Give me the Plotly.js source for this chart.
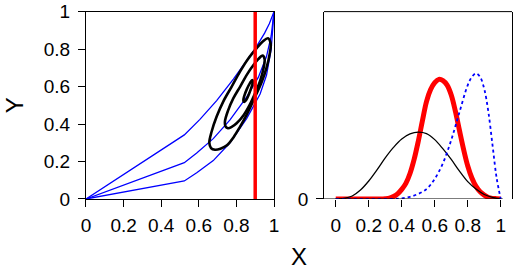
<!DOCTYPE html>
<html>
<head>
<meta charset="utf-8">
<script src="https://cdn.plot.ly/plotly-3.0.1.min.js"></script>
<style>html,body{margin:0;padding:0;background:#fff}#chart{width:517px;height:270px}</style>
</head>
<body>
<div id="chart"></div>
<script>
// ---- left panel data ----
const upperX = [0, 0.523, 0.606, 0.695, 0.784, 0.85, 0.9, 0.95, 0.975, 1];
const upperY = [0, 0.342, 0.425, 0.525, 0.64, 0.73, 0.803, 0.885, 0.935, 1];
const midX   = [0, 0.523, 0.589, 0.677, 0.766, 0.855, 0.917, 0.96, 0.985, 1];
const midY   = [0, 0.194, 0.245, 0.322, 0.422, 0.545, 0.65, 0.76, 0.87, 1];
const lowX   = [0, 0.523, 0.589, 0.677, 0.766, 0.855, 0.926, 0.96, 0.985, 1];
const lowY   = [0, 0.096, 0.14, 0.205, 0.3, 0.43, 0.56, 0.66, 0.8, 1];

const outerX = [0.968, 0.940, 0.908, 0.860, 0.819, 0.775, 0.730, 0.695, 0.668, 0.656, 0.665, 0.686, 0.715, 0.748, 0.785, 0.819, 0.855, 0.900, 0.935, 0.960, 0.978, 0.982, 0.968];
const outerY = [0.858, 0.840, 0.805, 0.745, 0.680, 0.600, 0.520, 0.440, 0.359, 0.300, 0.272, 0.263, 0.268, 0.285, 0.330, 0.385, 0.450, 0.546, 0.625, 0.700, 0.780, 0.830, 0.858];
const middleX = [0.940, 0.915, 0.880, 0.855, 0.820, 0.784, 0.755, 0.739, 0.742, 0.755, 0.775, 0.801, 0.840, 0.872, 0.900, 0.926, 0.945, 0.950, 0.940];
const middleY = [0.765, 0.745, 0.700, 0.662, 0.600, 0.538, 0.470, 0.413, 0.388, 0.378, 0.385, 0.404, 0.450, 0.505, 0.565, 0.630, 0.700, 0.745, 0.765];
const innerX = [0.884, 0.872, 0.855, 0.842, 0.837, 0.842, 0.852, 0.865, 0.878, 0.888, 0.884];
const innerY = [0.635, 0.618, 0.585, 0.550, 0.525, 0.518, 0.528, 0.555, 0.590, 0.625, 0.635];

const vlineX = 0.9;

// ---- right panel data (densities) ----
const blackX = [0,0.05,0.1,0.15,0.2,0.25,0.3,0.35,0.4,0.45,0.5,0.55,0.6,0.65,0.7,0.75,0.8,0.85,0.9,0.95,1];
const blackY = [0,0.02,0.10,0.30,0.60,0.97,1.37,1.72,2.00,2.17,2.23,2.18,1.98,1.67,1.32,0.93,0.58,0.33,0.15,0.05,0];
const redX = [0,0.25,0.275,0.3,0.325,0.35,0.375,0.4,0.425,0.45,0.475,0.5,0.525,0.55,0.575,0.6,0.625,0.65,0.675,0.7,0.725,0.75,0.775,0.8,0.825,0.85,0.875,0.9,0.925,0.95,0.975,1];
const redY = [0,0,0,0.01,0.03,0.08,0.17,0.32,0.52,0.85,1.32,1.92,2.60,3.25,3.65,3.88,3.99,3.95,3.80,3.47,2.93,2.28,1.65,1.10,0.70,0.42,0.24,0.13,0.05,0.02,0.01,0];
const blueX = [0,0.35,0.4,0.45,0.5,0.55,0.6,0.65,0.7,0.75,0.8,0.825,0.85,0.875,0.9,0.925,0.95,0.975,1];
const blueY = [0,0,0.02,0.07,0.17,0.33,0.67,1.2,1.97,2.9,3.8,4.07,4.19,4.07,3.67,2.9,1.8,0.7,0];

const ticks = [0,0.2,0.4,0.6,0.8,1];
const tickText = ['0','0.2','0.4','0.6','0.8','1'];

const FONT = 'Liberation Sans, Arial, Helvetica, sans-serif';
const BLUE = '#0000FF', RED = '#FF0000';

const traces = [
  {x: upperX, y: upperY, mode:'lines', line:{color:BLUE, width:1.3}, xaxis:'x', yaxis:'y'},
  {x: midX, y: midY, mode:'lines', line:{color:BLUE, width:1.3}, xaxis:'x', yaxis:'y'},
  {x: lowX, y: lowY, mode:'lines', line:{color:BLUE, width:1.3}, xaxis:'x', yaxis:'y'},
  {x: outerX, y: outerY, mode:'lines', line:{color:'#000', width:2.6, shape:'spline'}, xaxis:'x', yaxis:'y'},
  {x: middleX, y: middleY, mode:'lines', line:{color:'#000', width:2.6, shape:'spline'}, xaxis:'x', yaxis:'y'},
  {x: innerX, y: innerY, mode:'lines', line:{color:'#000', width:2.6, shape:'spline'}, xaxis:'x', yaxis:'y'},
  {x: [vlineX, vlineX], y: [0, 1], mode:'lines', line:{color:RED, width:3.5}, xaxis:'x', yaxis:'y'},
  {x: redX, y: redY, mode:'lines', line:{color:RED, width:5, shape:'spline'}, xaxis:'x2', yaxis:'y2'},
  {x: blackX, y: blackY, mode:'lines', line:{color:'#000', width:1.3, shape:'spline'}, xaxis:'x2', yaxis:'y2'},
  {x: blueX, y: blueY, mode:'lines', line:{color:BLUE, width:1.8, dash:'dot', shape:'spline'}, xaxis:'x2', yaxis:'y2'}
];

const axCommon = {
  showgrid:false, zeroline:false, ticks:'outside', ticklen:7, tickwidth:1, tickcolor:'#000',
  tickfont:{family:FONT, size:19, color:'#000'}, linecolor:'#000', linewidth:1
};

const layout = {
  width:517, height:270, margin:{l:0,r:0,t:0,b:0},
  paper_bgcolor:'#fff', plot_bgcolor:'#fff', showlegend:false,
  xaxis: Object.assign({}, axCommon, {domain:[0.1663,0.530], range:[0,1], tickvals:ticks, ticktext:tickText, showline:true, mirror:true, anchor:'y', ticklabelstandoff:2}),
  yaxis: Object.assign({}, axCommon, {domain:[0.263,0.957], range:[0,1], tickvals:ticks, ticktext:tickText, showline:true, mirror:true, anchor:'x', ticklabelstandoff:4}),
  xaxis2: Object.assign({}, axCommon, {domain:[0.6267,0.9903], range:[-0.071,1.068], tickvals:ticks, ticktext:tickText, showline:false, anchor:'y2', ticklabelstandoff:2}),
  yaxis2: Object.assign({}, axCommon, {domain:[0.263,0.957], range:[0,6.25], tickvals:[0], ticktext:['0'], showline:true, mirror:true, anchor:'x2', ticklabelstandoff:4}),
  shapes: [
    {type:'line', xref:'x2 domain', yref:'y2 domain', x0:0, x1:1, y0:1, y1:1, line:{color:'#000', width:1}},
    {type:'line', xref:'x2', yref:'y2', x0:-0.071, x1:1.012, y0:0, y1:0, line:{color:'#000', width:1}}
  ],
  annotations: [
    {text:'X', xref:'paper', yref:'paper', x:0.578, y:0.049, xanchor:'center', yanchor:'middle', showarrow:false, font:{family:FONT, size:24, color:'#000'}},
    {text:'Y', xref:'paper', yref:'paper', x:0.027, y:0.61, xanchor:'center', yanchor:'middle', showarrow:false, textangle:-90, font:{family:FONT, size:24, color:'#000'}}
  ]
};

Plotly.newPlot('chart', traces, layout, {displayModeBar:false, staticPlot:true});
</script>
</body>
</html>
